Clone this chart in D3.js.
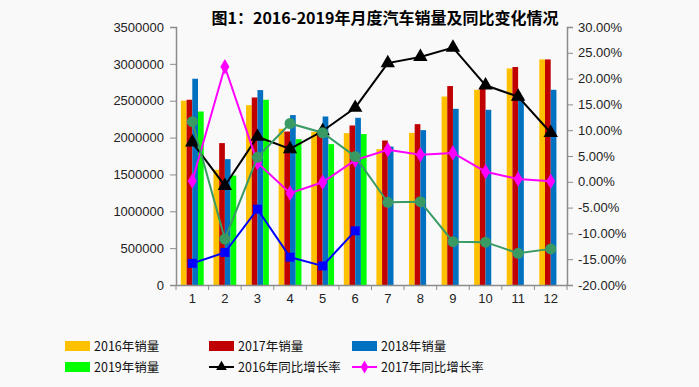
<!DOCTYPE html>
<html>
<head>
<meta charset="utf-8">
<script src="https://cdn.jsdelivr.net/npm/d3@7"></script>
<style>
  html, body { margin: 0; padding: 0; background: #f9f9f9; }
  svg { display: block; font-family: "Noto Sans CJK SC", "DejaVu Sans", sans-serif; }
</style>
</head>
<body>
<div id="myChart"></div>
<script>
// months and series
var months = ["1", "2", "3", "4", "5", "6", "7", "8", "9", "10", "11", "12"];
var sales2016 = [2500000, 1562000, 2440000, 2119000, 2078000, 2060000, 1843000, 2064000, 2557000, 2648000, 2938000, 3060000];
var sales2017 = [2513000, 1925000, 2544000, 2082000, 2096000, 2164000, 1960000, 2182000, 2699000, 2693000, 2957000, 3060000];
var sales2018 = [2798000, 1707000, 2644000, 2305000, 2286000, 2268000, 1878000, 2101000, 2390000, 2377000, 2540000, 2648000];
var sales2019 = [2354000, 1485000, 2513000, 1979000, 1911000, 2047000, null, null, null, null, null, null];
var growth2016 = [7.65, -0.76, 8.74, 6.36, 9.84, 14.36, 23.0, 24.2, 26.0, 18.7, 16.5, 9.5];
var growth2017 = [0.15, 22.3, 3.7, -2.2, -0.1, 4.2, 6.2, 5.25, 5.6, 1.96, 0.54, 0.1];
var growth2018 = [11.65, -11.1, 4.75, 11.3, 9.5, 4.9, -3.97, -3.86, -11.6, -11.7, -13.86, -13.0];
var growth2019 = [-15.8, -13.7, -5.3, -14.6, -16.3, -9.5];
var leftTicks = [0, 500000, 1000000, 1500000, 2000000, 2500000, 3000000, 3500000];
var rightTicks = [-20, -15, -10, -5, 0, 5, 10, 15, 20, 25, 30];

var width = 699, height = 387;
var plotLeft = 176, plotRight = 567, plotTop = 27, plotBottom = 285;

var svg = d3.select("#myChart").append("svg")
  .attr("width", width)
  .attr("height", height);

svg.append("rect").attr("width", width).attr("height", height).attr("fill", "#f9f9f9");

// title
svg.append("text")
  .attr("x", 385).attr("y", 24)
  .attr("text-anchor", "middle")
  .style("font-size", "16px").style("font-weight", "bold")
  .text("图1：2016-2019年月度汽车销量及同比变化情况");

var x = d3.scaleBand().domain(months).range([plotLeft, plotRight]).paddingInner(0).paddingOuter(0);
var barSeries = ["s2016", "s2017", "s2018", "s2019"];
var x1 = d3.scaleBand().domain(barSeries)
  .range([x.bandwidth() * 0.15, x.bandwidth() * 0.85]);
var yL = d3.scaleLinear().domain([0, 3500000]).range([plotBottom, plotTop]);
var yR = d3.scaleLinear().domain([-20, 30]).range([plotBottom, plotTop]);

// bars
var barData = [
  { key: "s2016", values: sales2016, color: "#FFC000" },
  { key: "s2017", values: sales2017, color: "#C00000" },
  { key: "s2018", values: sales2018, color: "#0070C0" },
  { key: "s2019", values: sales2019, color: "#00FF00" }
];
barData.forEach(function(s) {
  svg.append("g").selectAll("rect")
    .data(s.values.map(function(v, i) { return { m: months[i], v: v }; }).filter(function(d) { return d.v != null; }))
    .enter().append("rect")
    .attr("x", function(d) { return x(d.m) + x1(s.key); })
    .attr("width", x1.bandwidth())
    .attr("y", function(d) { return yL(d.v); })
    .attr("height", function(d) { return plotBottom - yL(d.v); })
    .attr("fill", s.color);
});

// axes
var axisColor = "#8c8c8c";
var gL = svg.append("g").attr("transform", "translate(" + plotLeft + ",0)")
  .call(d3.axisLeft(yL).tickValues(leftTicks).tickSize(6).tickPadding(6).tickFormat(d3.format("d")));
var gR = svg.append("g").attr("transform", "translate(" + plotRight + ",0)")
  .call(d3.axisRight(yR).tickValues(rightTicks).tickSize(6).tickPadding(5).tickFormat(function(d) { return d.toFixed(2) + "%"; }));
var gX = svg.append("g").attr("transform", "translate(0," + plotBottom + ")")
  .call(d3.axisBottom(x).tickSize(0).tickPadding(9));
// category boundary ticks
svg.append("g").selectAll("line")
  .data(d3.range(13))
  .enter().append("line")
  .attr("x1", function(i) { return plotLeft + i * x.step(); })
  .attr("x2", function(i) { return plotLeft + i * x.step(); })
  .attr("y1", plotBottom).attr("y2", plotBottom + 5)
  .attr("stroke", axisColor);

[gL, gR, gX].forEach(function(g) {
  g.select(".domain").attr("stroke", axisColor).attr("stroke-width", 1.5);
  g.selectAll(".tick line").attr("stroke", axisColor);
  g.selectAll("text").attr("fill", "#222").style("font-size", "13px")
    .style("font-family", "\"Liberation Sans\", \"DejaVu Sans\", sans-serif");
});

// growth lines
var cx = function(i) { return x(months[i]) + x.bandwidth() / 2; };
var lineSeries = [
  { values: growth2016, color: "#000000", marker: d3.symbolTriangle, size: 90 },
  { values: growth2017, color: "#FF00FF", marker: d3.symbolDiamond, size: 70 },
  { values: growth2018, color: "#3A9A64", marker: d3.symbolCircle, size: 95 },
  { values: growth2019, color: "#0000FF", marker: d3.symbolSquare, size: 80 }
];
var line = d3.line()
  .x(function(d, i) { return cx(i); })
  .y(function(d) { return yR(d); });
lineSeries.forEach(function(s) {
  svg.append("path")
    .attr("d", line(s.values))
    .attr("fill", "none")
    .attr("stroke", s.color)
    .attr("stroke-width", 2);
  svg.append("g").selectAll("path")
    .data(s.values)
    .enter().append("path")
    .attr("d", d3.symbol().type(s.marker).size(s.size))
    .attr("transform", function(d, i) { return "translate(" + cx(i) + "," + yR(d) + ")"; })
    .attr("fill", s.color);
});

// legend
var legendItems = [
  { label: "2016年销量", type: "bar", color: "#FFC000", x: 65, y: 346 },
  { label: "2017年销量", type: "bar", color: "#C00000", x: 209, y: 346 },
  { label: "2018年销量", type: "bar", color: "#0070C0", x: 352, y: 346 },
  { label: "2019年销量", type: "bar", color: "#00FF00", x: 65, y: 367 },
  { label: "2016年同比增长率", type: "line", color: "#000000", marker: d3.symbolTriangle, x: 209, y: 367 },
  { label: "2017年同比增长率", type: "line", color: "#FF00FF", marker: d3.symbolDiamond, x: 352, y: 367 }
];
var lg = svg.append("g").selectAll("g").data(legendItems).enter().append("g")
  .attr("transform", function(d) { return "translate(" + d.x + "," + d.y + ")"; });
lg.filter(function(d) { return d.type === "bar"; }).append("rect")
  .attr("x", 0).attr("y", -5).attr("width", 25).attr("height", 10)
  .attr("fill", function(d) { return d.color; });
lg.filter(function(d) { return d.type === "line"; }).append("line")
  .attr("x1", 0).attr("x2", 25).attr("y1", 0).attr("y2", 0)
  .attr("stroke", function(d) { return d.color; }).attr("stroke-width", 2);
lg.filter(function(d) { return d.type === "line"; }).append("path")
  .attr("d", function(d) { return d3.symbol().type(d.marker).size(50)(); })
  .attr("transform", "translate(12.5,0)")
  .attr("fill", function(d) { return d.color; });
lg.append("text")
  .attr("x", 29).attr("y", 5)
  .style("font-size", "12.5px")
  .attr("fill", "#111")
  .text(function(d) { return d.label; });
</script>
</body>
</html>
